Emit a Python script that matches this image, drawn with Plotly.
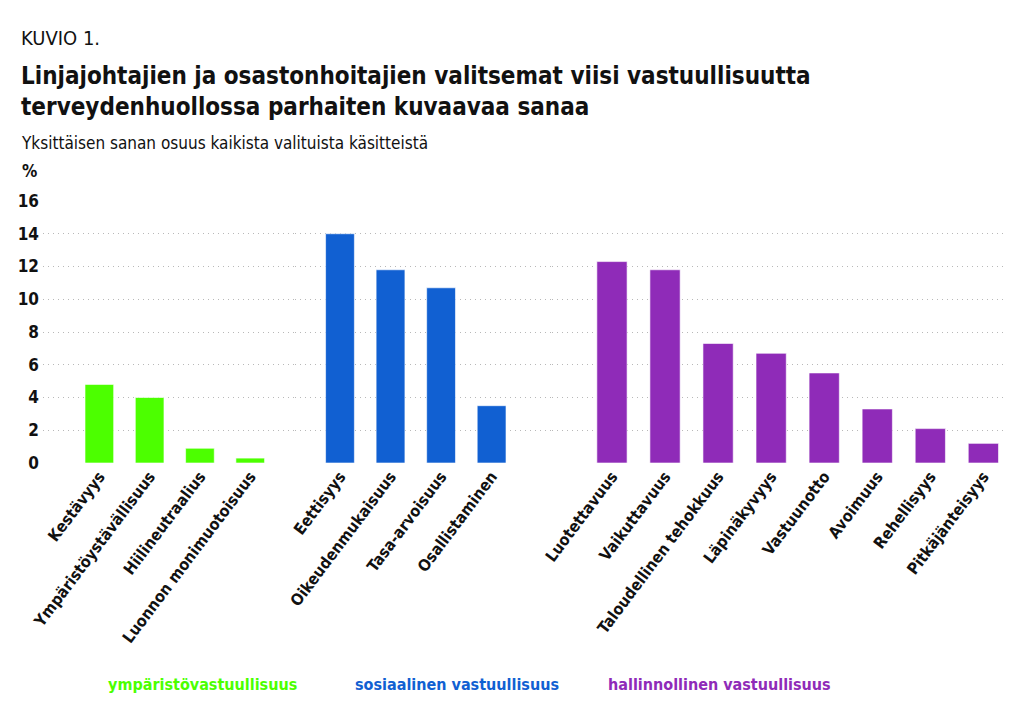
import plotly.graph_objects as go

env_labels = ["Kestävyys", "Ympäristöystävällisuus", "Hiilineutraalius", "Luonnon monimuotoisuus"]
env_values = [4.8, 4.0, 0.9, 0.3]
soc_labels = ["Eettisyys", "Oikeudenmukaisuus", "Tasa-arvoisuus", "Osallistaminen"]
soc_values = [14.0, 11.8, 10.7, 3.5]
gov_labels = ["Luotettavuus", "Vaikuttavuus", "Taloudellinen tehokkuus", "Läpinäkyvyys",
              "Vastuunotto", "Avoimuus", "Rehellisyys", "Pitkäjänteisyys"]
gov_values = [12.3, 11.8, 7.3, 6.7, 5.5, 3.3, 2.1, 1.2]
group_names = ["ympäristövastuullisuus", "sosiaalinen vastuullisuus", "hallinnollinen vastuullisuus"]
colors = ["#4cff00", "#1160d2", "#8f2bb8"]
y_ticks = [0, 2, 4, 6, 8, 10, 12, 14, 16]

FONT = "DejaVu Sans Condensed, Liberation Sans Narrow, Roboto, sans-serif"
OFF = 8  # page body margin
W, H = 1024 - OFF, 727 - OFF
L, R, T, B = 43 - OFF, 21, 200.7 - OFF, 263.7
PW = W - L - R
PH = H - T - B


def px(x):
    return (x - OFF - L) / PW


def py(y):
    return (H - B - (y - OFF)) / PH


fig = go.Figure()
groups = [(env_labels, env_values), (soc_labels, soc_values), (gov_labels, gov_values)]
domains = [[0, px(295)], [px(295), px(551.75)], [px(551.75), 1]]
ranges = [[-1.12, 3.89], [-0.89, 4.19], [-1.135, 7.37]]

for i, ((labs, vals), col) in enumerate(zip(groups, colors)):
    n = "" if i == 0 else str(i + 1)
    fig.add_trace(go.Bar(
        x=labs, y=vals, marker=dict(color=col, line=dict(color="rgba(255,255,255,0.6)", width=1)),
        xaxis="x" + n, yaxis="y" + n, showlegend=False, hoverinfo="x+y"))
    fig.layout["xaxis" + n] = dict(
        domain=domains[i], range=ranges[i], type="category", anchor="y" + n,
        tickangle=-53, tickfont=dict(family=FONT, size=16, color="#111111", weight="bold"),
        showgrid=False, zeroline=False, showline=False, ticks="", automargin=False)
    fig.layout["yaxis" + n] = dict(
        range=[0, 16], anchor="x" + n, tickvals=y_ticks,
        showticklabels=(i == 0), tickfont=dict(family=FONT, size=17, color="#111111", weight="bold"),
        showgrid=True, gridcolor="#b8b8b8", griddash="1px,4px", gridwidth=1.2,
        zeroline=False, showline=False, ticks="", automargin=False, ticklabelstandoff=3)

ann = [
    dict(text="KUVIO 1.", x=px(19), y=py(37), size=20, bold=False),
    dict(text="Linjajohtajien ja osastonhoitajien valitsemat viisi vastuullisuutta", x=px(19), y=py(75), size=24, bold=True),
    dict(text="terveydenhuollossa parhaiten kuvaavaa sanaa", x=px(19), y=py(106), size=24, bold=True),
    dict(text="Yksittäisen sanan osuus kaikista valituista käsitteistä", x=px(19), y=py(143), size=17, bold=False),
    dict(text="%", x=px(20), y=py(171), size=17, bold=True),
]
for a in ann:
    fig.add_annotation(
        text=("<b>%s</b>" % a["text"]) if a["bold"] else a["text"],
        x=a["x"], y=a["y"], xref="paper", yref="paper", xanchor="left", yanchor="middle",
        showarrow=False, font=dict(family=FONT, size=a["size"], color="#111111"))

for name, col, cx in zip(group_names, colors, [202, 457, 719.5]):
    fig.add_annotation(
        text="<b>%s</b>" % name, x=px(cx), y=py(685), xref="paper", yref="paper",
        xanchor="center", yanchor="middle", showarrow=False,
        font=dict(family=FONT, size=16, color=col))

fig.update_layout(
    width=W, height=H, margin=dict(l=L, r=R, t=T, b=B, autoexpand=False),
    paper_bgcolor="white", plot_bgcolor="white", bargap=0.43,
    font=dict(family=FONT, color="#111111"))

fig.write_html("out.html")
